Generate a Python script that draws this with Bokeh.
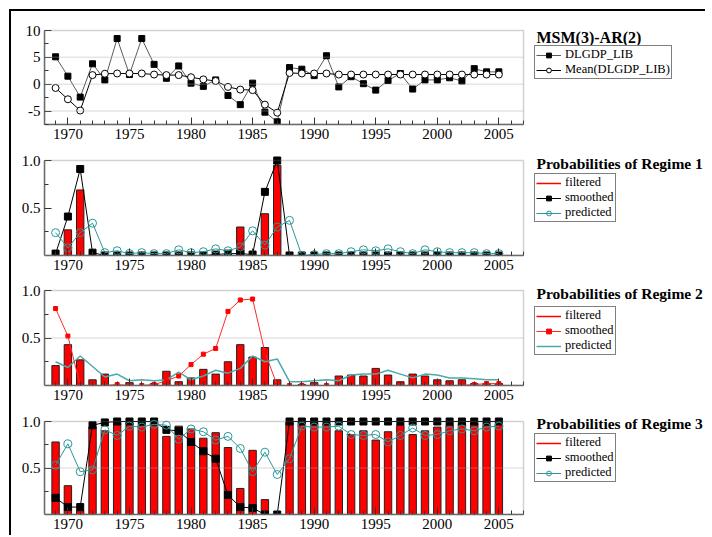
from bokeh.plotting import figure
from bokeh.models import (Range1d, SingleIntervalTicker, FixedTicker, Legend,
                          LegendItem, Label, PrintfTickFormatter, BoxAnnotation)
from bokeh.layouts import column
from bokeh.embed import file_html
from bokeh.resources import INLINE

FONT = "Liberation Serif"
TEAL = "#2a9898"
TEAL2 = "#4aaaaa"
BOX = "#6a6a6a"

years = list(range(1969, 2006))

# Panel 1: DLGDP_LIB and its regime mean
dlgdp = [5.1, 1.5, -2.4, 3.8, 0.8, 8.5, 1.8, 8.5, 3.7, 1.1, 3.4, 0.2, -0.4, 0.8,
         -2.1, -3.8, 0.2, -5.2, -7.0, 3.1, 2.8, 1.6, 5.3, -0.5, 1.4, 0.1, -1.1,
         0.7, 2.0, -0.9, 0.8, 0.8, 1.2, 0.6, 2.9, 2.3, 2.3]
mean_dlgdp = [-0.7, -2.8, -4.9, 1.7, 1.95, 2.0, 2.0, 2.0, 1.8, 1.7, 1.7, 1.3, 0.9,
              0.6, -0.5, -1.0, -1.1, -3.8, -5.3, 2.1, 2.0, 2.0, 2.0, 1.8, 1.8,
              1.8, 1.8, 1.8, 1.8, 1.8, 1.8, 1.8, 1.8, 1.8, 1.8, 1.8, 1.8]

# Regime 1
filt1 = [0.0, 0.27, 0.69, 0.0, 0.0, 0.0, 0.0, 0.0, 0.0, 0.0, 0.0, 0.0, 0.0, 0.0,
         0.01, 0.30, 0.0, 0.44, 0.95, 0.0, 0.0, 0.0, 0.0, 0.0, 0.0, 0.0, 0.0,
         0.0, 0.0, 0.0, 0.0, 0.0, 0.0, 0.0, 0.0, 0.0, 0.0]
smooth1 = [0.02, 0.41, 0.91, 0.03, 0.0, 0.0, 0.0, 0.0, 0.0, 0.0, 0.0, 0.0, 0.0,
           0.01, 0.02, 0.02, 0.01, 0.67, 1.0, 0.0, 0.0, 0.0, 0.0, 0.0, 0.0, 0.0,
           0.0, 0.0, 0.0, 0.0, 0.0, 0.0, 0.0, 0.0, 0.0, 0.0, 0.0]
pred1 = [0.24, 0.08, 0.24, 0.34, 0.03, 0.05, 0.02, 0.03, 0.02, 0.02, 0.06, 0.03,
         0.04, 0.07, 0.05, 0.09, 0.26, 0.11, 0.30, 0.37, 0.0, 0.01, 0.02, 0.02,
         0.04, 0.06, 0.05, 0.07, 0.04, 0.02, 0.06, 0.04, 0.03, 0.03, 0.03, 0.02,
         0.02]

# Regime 2
filt2 = [0.21, 0.43, 0.27, 0.06, 0.12, 0.0, 0.03, 0.0, 0.02, 0.15, 0.04, 0.08,
         0.17, 0.12, 0.25, 0.43, 0.30, 0.40, 0.06, 0.0, 0.01, 0.03, 0.0, 0.10,
         0.11, 0.10, 0.18, 0.11, 0.04, 0.12, 0.10, 0.06, 0.05, 0.06, 0.02, 0.02,
         0.02]
smooth2 = [0.81, 0.52, 0.0, 0.0, 0.0, 0.01, 0.0, 0.0, 0.01, 0.05, 0.10, 0.22,
           0.33, 0.39, 0.78, 0.90, 0.91, 0.35, 0.0, 0.0, 0.0, 0.0, 0.0, 0.0,
           0.0, 0.0, 0.0, 0.0, 0.0, 0.0, 0.0, 0.0, 0.0, 0.0, 0.01, 0.02, 0.02]
pred2 = [0.25, 0.19, 0.31, 0.20, 0.09, 0.12, 0.05, 0.06, 0.05, 0.06, 0.14, 0.06,
         0.10, 0.16, 0.13, 0.18, 0.31, 0.25, 0.28, 0.04, 0.04, 0.05, 0.06, 0.05,
         0.11, 0.12, 0.12, 0.16, 0.12, 0.08, 0.12, 0.11, 0.08, 0.08, 0.07, 0.06,
         0.06]

# Regime 3
filt3 = [0.78, 0.31, 0.04, 0.94, 0.90, 0.99, 0.98, 0.96, 1.0, 0.84, 0.95, 0.92,
         0.82, 0.88, 0.72, 0.28, 0.69, 0.16, 0.0, 0.99, 0.99, 0.98, 0.97, 0.90,
         0.86, 0.90, 0.80, 0.89, 0.96, 0.86, 0.90, 0.94, 0.96, 0.98, 0.98, 0.96,
         0.97]
smooth3 = [0.18, 0.08, 0.08, 0.96, 0.99, 1.0, 1.0, 1.0, 1.0, 0.91, 0.90, 0.78,
           0.68, 0.60, 0.21, 0.08, 0.07, 0.0, 0.0, 1.0, 1.0, 1.0, 1.0, 1.0, 1.0,
           1.0, 1.0, 1.0, 1.0, 1.0, 1.0, 1.0, 1.0, 1.0, 1.0, 1.0, 1.0]
pred3 = [0.53, 0.76, 0.46, 0.48, 0.91, 0.85, 0.95, 0.94, 0.97, 0.96, 0.81, 0.92,
         0.89, 0.80, 0.84, 0.71, 0.46, 0.67, 0.43, 0.60, 0.95, 0.94, 0.94, 0.95,
         0.86, 0.85, 0.86, 0.78, 0.85, 0.93, 0.85, 0.86, 0.90, 0.92, 0.90, 0.94,
         0.95]

titles = ["MSM(3)-AR(2)", "Probabilities of Regime 1",
          "Probabilities of Regime 2", "Probabilities of Regime 3"]

X0, X1 = 1968.1, 2007.0          # data box in years
BOX_W = 479                       # data box width in px
FRAME_W = 661                     # frame incl. legend area
X_END = X0 + (X1 - X0) * FRAME_W / BOX_W


def make_fig(ymin, ymax, box_h, extra_top, bottom, yticks, yminor, grid, fmt):
    ppu = box_h / (ymax - ymin)
    ytop = ymax + extra_top / ppu
    p = figure(frame_width=FRAME_W, frame_height=box_h + extra_top,
               min_border_left=33, min_border_right=0,
               min_border_top=0, min_border_bottom=bottom,
               x_range=Range1d(X0, X_END), y_range=Range1d(ymin, ytop),
               output_backend="svg", toolbar_location=None)
    p.background_fill_color = "white"
    p.border_fill_color = "white"
    p.outline_line_color = None
    p.xaxis.ticker = SingleIntervalTicker(interval=5, num_minor_ticks=5)
    p.xaxis.bounds = (X0, X1)
    p.yaxis.ticker = FixedTicker(ticks=yticks, minor_ticks=yminor)
    p.yaxis.bounds = (ymin, ymax)
    p.yaxis.formatter = PrintfTickFormatter(format=fmt)
    for ax in (p.xaxis[0], p.yaxis[0]):
        ax.axis_line_color = BOX
        ax.axis_line_width = 1.5
        ax.major_tick_in = 7
        ax.major_tick_out = 0
        ax.minor_tick_in = 4
        ax.minor_tick_out = 0
        ax.major_tick_line_color = "#333333"
        ax.minor_tick_line_color = "#333333"
        ax.major_label_text_font = FONT
        ax.major_label_text_font_size = "15px"
        ax.major_label_text_color = "black"
        ax.major_label_standoff = 4
    p.xgrid.visible = False
    p.ygrid.visible = False
    for g in grid:
        p.add_layout(BoxAnnotation(left=X0, right=X1, bottom=g, top=g,
                                   fill_alpha=0, line_color="#aaaaaa",
                                   line_width=1.5))
    p.add_layout(BoxAnnotation(left=X0, right=X1, bottom=ymin, top=ymax,
                               fill_alpha=0, line_color=BOX, line_width=1.5))
    return p


def add_title(p, text, y):
    p.add_layout(Label(x=492, y=y, x_units="screen", y_units="screen", text=text,
                       text_font=FONT, text_font_style="bold",
                       text_font_size="16px" if text.startswith("MSM") else "15.5px",
                       text_baseline="middle", text_color="black"))


def add_legend(p, items, y):
    lg = Legend(items=items, location=(490, y), border_line_color="black",
                border_line_width=1, background_fill_color="white",
                background_fill_alpha=1.0, padding=1, margin=0, spacing=0,
                glyph_width=25, glyph_height=12, label_height=12,
                label_standoff=4, label_text_font=FONT,
                label_text_font_size="12.5px", label_text_line_height=1.0,
                label_text_color="black")
    p.add_layout(lg)


# ---------- panel 1 ----------
p1 = make_fig(-7.5, 10, 94, 19, 21, [-5, 0, 5, 10], [-7.5, -2.5, 2.5, 7.5],
              [-5, 0, 5], "%g")
l1 = p1.line(years, dlgdp, line_color="#5a5a5a", line_width=1)
s1 = p1.scatter(years, dlgdp, marker="square", size=6, color="black")
l2 = p1.line(years, mean_dlgdp, line_color="black", line_width=1)
s2 = p1.scatter(years, mean_dlgdp, marker="circle", size=7, line_color="black",
                fill_color="white", line_width=1)
add_title(p1, titles[0], 87)
add_legend(p1, [LegendItem(label="DLGDP_LIB", renderers=[l1, s1]),
                LegendItem(label="Mean(DLGDP_LIB)", renderers=[l2, s2])], 45)


def prob_panel(filt, smooth, pred, box_h, extra_top, bottom, grid, style, title,
               title_y, leg_y):
    p = make_fig(0, 1, box_h, extra_top, bottom, [0.5, 1.0], [0.25, 0.75], grid,
                 "%.1f")
    p.vbar(x=years, top=filt, width=0.6, fill_color="#ff0000",
           line_color="#222222", line_width=1)
    # legend-only swatch for "filtered" (a red line, as in the original legend)
    lf = p.line([float("nan")], [float("nan")], line_color="#ff0000",
                line_width=1.5)
    if style == "markers":
        ls = p.line(years, smooth, line_color="black", line_width=1)
        ss = p.scatter(years, smooth, marker="square", size=7, color="black")
        lp = p.line(years, pred, line_color=TEAL, line_width=1)
        sp = p.scatter(years, pred, marker="circle", size=8, line_color=TEAL,
                       fill_alpha=0, line_width=1)
        items = [LegendItem(label="filtered", renderers=[lf]),
                 LegendItem(label="smoothed", renderers=[ls, ss]),
                 LegendItem(label="predicted", renderers=[lp, sp])]
    else:
        lp = p.line(years, pred, line_color=TEAL2, line_width=1.5)
        ls = p.line(years, smooth, line_color="#ff2a2a", line_width=1)
        ss = p.scatter(years, smooth, marker="square", size=4, color="#ff0000")
        items = [LegendItem(label="filtered", renderers=[lf]),
                 LegendItem(label="smoothed", renderers=[ls, ss]),
                 LegendItem(label="predicted", renderers=[lp])]
    add_title(p, title, title_y)
    add_legend(p, items, leg_y)
    return p


p2 = prob_panel(filt1, smooth1, pred1, 95, 15, 23, [], "markers", titles[1], 92, 33)
p3 = prob_panel(filt2, smooth2, pred2, 95, 12, 23, [0.5], "lines", titles[2], 92, 30)
p4 = prob_panel(filt3, smooth3, pred3, 93, 13, 21, [0.5], "markers", titles[3], 91, 32)

layout = column(p1, p2, p3, p4, spacing=0,
                styles={"border-top": "2px solid black",
                        "border-left": "2px solid black",
                        "margin-left": "9px", "margin-top": "9px"})

open("out.html", "w").write(file_html(layout, INLINE))
